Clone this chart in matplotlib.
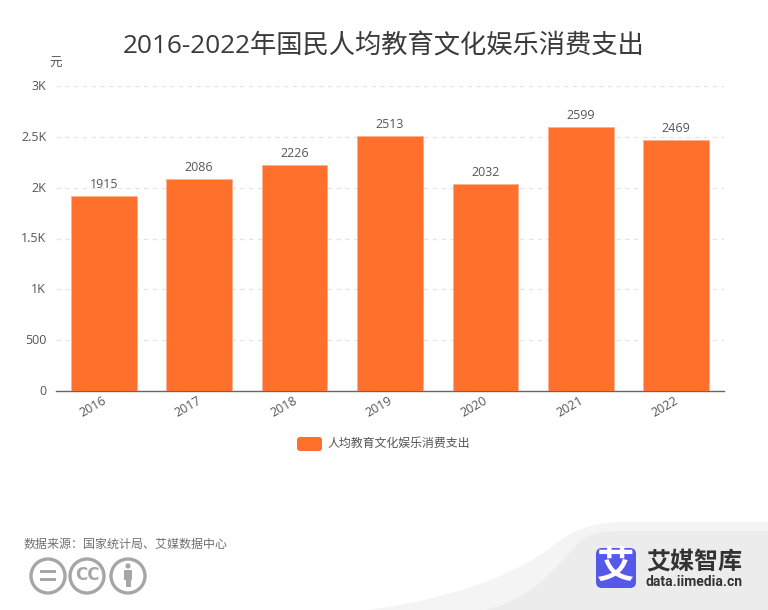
import matplotlib
matplotlib.use('Agg')
import matplotlib.pyplot as plt
from matplotlib.patches import Circle, FancyBboxPatch, PathPatch, Rectangle
from matplotlib.path import Path
from matplotlib.transforms import ScaledTranslation

FAM = ['Open Sans', 'Noto Sans CJK SC', 'DejaVu Sans']
plt.rcParams['font.family'] = FAM

years = ['2016', '2017', '2018', '2019', '2020', '2021', '2022']
values = [1915, 2086, 2226, 2513, 2032, 2599, 2469]
yticks = [0, 500, 1000, 1500, 2000, 2500, 3000]
ylabels = ['0', '500', '1K', '1.5K', '2K', '2.5K', '3K']
series = '人均教育文化娱乐消费支出'
title = '2016-2022年国民人均教育文化娱乐消费支出'
source = '数据来源:国家统计局、艾媒数据中心'
ORANGE = '#ff702d'
TXT = '#555555'
W, H = 768, 610

fig = plt.figure(figsize=(W/100, H/100), dpi=100, facecolor='white')

bg = fig.add_axes([0, 0, 1, 1], zorder=0)
bg.set_xlim(0, W); bg.set_ylim(H, 0); bg.axis('off')

outer = Path([(368, 610), (440, 600), (510, 580), (554, 545), (580, 525), (600, 522), (630, 522), (768, 522), (768, 610), (368, 610)],
             [Path.MOVETO, Path.CURVE4, Path.CURVE4, Path.CURVE4, Path.CURVE4, Path.CURVE4, Path.CURVE4, Path.LINETO, Path.LINETO, Path.CLOSEPOLY])
inner = Path([(485, 610), (530, 600), (555, 570), (578, 543), (590, 532), (605, 531), (625, 531), (768, 531), (768, 610), (485, 610)],
             [Path.MOVETO, Path.CURVE4, Path.CURVE4, Path.CURVE4, Path.CURVE4, Path.CURVE4, Path.CURVE4, Path.LINETO, Path.LINETO, Path.CLOSEPOLY])
bg.add_patch(PathPatch(outer, fc='#f4f4f4', ec='none'))
bg.add_patch(PathPatch(inner, fc='#ececec', ec='none'))

ax = fig.add_axes([56/W, 1-391/H, (724-56)/W, (391-86)/H], zorder=2)
ax.patch.set_alpha(0)
x = range(len(years))
ax.bar(x, values, width=0.69, color=ORANGE, edgecolor='#ffb08c', linewidth=0.6, zorder=3)
for i, v in zip(x, values):
    ax.annotate(str(v), (i, v), xytext=(0, 3.6), textcoords='offset points', ha='center', va='bottom',
                fontsize=9, color=TXT, zorder=4)
ax.set_xlim(-0.5, len(years)-0.5)
ax.set_ylim(0, 3000)
ax.set_yticks(yticks, ylabels)
ax.set_xticks(list(x), years, rotation=30, ha='center')
ax.tick_params(axis='y', length=0, pad=7, labelsize=9, labelcolor=TXT)
ax.tick_params(axis='x', length=0, pad=2, labelsize=9, labelcolor=TXT)
shift = ScaledTranslation(-11/100, 0, fig.dpi_scale_trans)
for lab in ax.get_xticklabels():
    lab.set_transform(lab.get_transform() + shift)
for lab in ax.get_yticklabels():
    lab.set_transform(lab.get_transform() + ScaledTranslation(0, 1/100, fig.dpi_scale_trans))
ax.grid(axis='y', color='#dfe4f6', linewidth=0.9, linestyle=(0, (3.5, 3.5)), zorder=0)
ax.set_axisbelow(True)
for s in ['top', 'left', 'right']:
    ax.spines[s].set_visible(False)
ax.spines['bottom'].set_color('#666666')
ax.spines['bottom'].set_linewidth(1)

fg = fig.add_axes([0, 0, 1, 1], zorder=3)
fg.set_xlim(0, W); fg.set_ylim(H, 0); fg.axis('off')
fg.text(384, 47, title, ha='center', va='center', fontsize=18.95, color='#3a3a3a')
fg.text(56, 63, '元', ha='center', va='center', fontsize=9, color=TXT)
fg.add_patch(FancyBboxPatch((297, 437), 25, 14, boxstyle='round,pad=0,rounding_size=3', fc=ORANGE, ec='none'))
fg.text(327, 443.5, series, ha='left', va='center', fontsize=8.6, color=TXT)
fg.text(24, 544, source.replace(':', '：'), ha='left', va='center', fontsize=8.64, color='#707070')

GR = '#a6a6a6'
for cx in (48, 87, 128):
    fg.add_patch(Circle((cx, 576), 17, fc='white', ec=GR, lw=2.4))
fg.add_patch(Rectangle((40, 569.5), 16, 3.2, fc=GR, ec='none'))
fg.add_patch(Rectangle((40, 578), 16, 3.2, fc=GR, ec='none'))
fg.text(87, 575.5, 'CC', ha='center', va='center', fontsize=12, color=GR, family='DejaVu Sans', fontweight='bold')
fg.add_patch(Circle((128, 566), 2.6, fc=GR, ec='none'))
fg.add_patch(Rectangle((124, 570), 8, 10, fc=GR, ec='none'))
fg.add_patch(Rectangle((125.5, 579), 5, 8, fc=GR, ec='none'))

fg.add_patch(FancyBboxPatch((596, 548), 40, 40, boxstyle='round,pad=0,rounding_size=6', fc='#5558e8', ec='none'))
fg.text(616, 568, '艾', ha='center', va='center', fontsize=27, color='white', fontweight='bold')
fg.text(694.5, 562, '艾媒智库', ha='center', va='center', fontsize=17.3, color='#333333', fontweight='bold')
fg.text(694.5, 582.5, 'data.iimedia.cn', ha='center', va='center', fontsize=10, color='#333333', fontweight='bold', family='Roboto')

fig.savefig('out.png', dpi=100, facecolor='white')
